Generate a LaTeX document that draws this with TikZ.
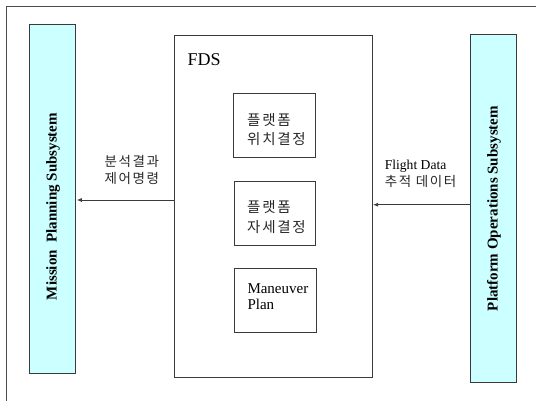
\documentclass[tikz,border=0pt]{standalone}
\usepackage{fontspec}
\setmainfont{Liberation Serif}
\newfontfamily\kr[LetterSpace=12]{Noto Sans CJK KR}
\usetikzlibrary{arrows.meta}
\definecolor{subsys}{HTML}{CCFFFF}
\definecolor{edge}{HTML}{3A3A3A}
\tikzset{
  box/.style={draw=edge, line width=0.9pt, inner sep=0pt, outer sep=0pt},
  subbox/.style={box, fill=subsys},
  krtext/.style={font=\kr\fontsize{14.5}{19.4}\selectfont, text=black!85, inner sep=0pt, anchor=base west},
  entext/.style={font=\fontsize{15}{16}\selectfont, inner sep=0pt, anchor=base west},
  vtext/.style={font=\bfseries\fontsize{15}{16}\selectfont, rotate=90, inner sep=0pt},
  flowkr/.style={font=\kr\fontsize{13.5}{15}\selectfont, text=black!85, inner sep=0pt, anchor=base west},
  flowen/.style={font=\fontsize{13.6}{15}\selectfont, inner sep=0pt, anchor=base west},
  arr/.style={draw=edge, line width=0.8pt, -{Latex[length=5pt,width=4pt]}, shorten >=1pt},
}
\begin{document}
\begin{tikzpicture}[x=1pt, y=-1pt]
  \useasboundingbox (0,0) rectangle (536,400);
  \clip (0,0) rectangle (536,400);
  % outer frame (only its top and left edges fall on the page)
  \draw[draw=black!70, line width=1pt] (6.7,6.7) rectangle (560,420);

  % subsystems
  \node[subbox, minimum width=46.5pt, minimum height=348.5pt] (mps) at (52.6,198.8) {};
  \node[subbox, minimum width=46pt, minimum height=348.2pt] (pos) at (493.8,208.6) {};
  \node[vtext] (mpsl) at (53,206.5) {Mission\ \ Planning Subsystem};
  \node[vtext] (posl) at (494,208.5) {Platform Operations Subsystem};

  % flight dynamics system
  \node[box, minimum width=197.3pt, minimum height=341.3pt] (fds) at (273.4,206.4) {};
  \node[font=\fontsize{18}{20}\selectfont, inner sep=0pt, anchor=base west] (fdsl) at (187.5,65.8) {FDS};

  \node[box, minimum width=81.7pt, minimum height=63.6pt] (b1) at (274.4,125.5) {};
  \node[box, minimum width=81pt, minimum height=64pt] (b2) at (274.7,213.7) {};
  \node[box, minimum width=82pt, minimum height=64pt] (b3) at (275.5,300.3) {};
  \node[krtext] (b1a) at (247,125.5) {플랫폼};
  \node[krtext] (b1b) at (247,144.8) {위치결정};
  \node[krtext] (b2a) at (247,212.8) {플랫폼};
  \node[krtext] (b2b) at (247,232.2) {자세결정};
  \node[entext] (b3a) at (247.3,293.3) {Maneuver};
  \node[entext] (b3b) at (247.3,309.3) {Plan};

  % data flows
  \coordinate (lrow) at (0,200);
  \coordinate (rrow) at (0,204.7);
  \draw[arr] (fds.west |- lrow) -- (mps.east |- lrow);
  \draw[arr] (pos.west |- rrow) -- (fds.east |- rrow);

  \node[flowkr] (ll1) at (104.3,166.7) {분석결과};
  \node[flowkr] (ll2) at (104.3,183.3) {제어명령};
  \node[flowen] (rl1) at (384.6,169.5) {Flight Data};
  \node[flowkr] (rl2) at (384.6,186.2) {추적 데이터};
\end{tikzpicture}
\end{document}
